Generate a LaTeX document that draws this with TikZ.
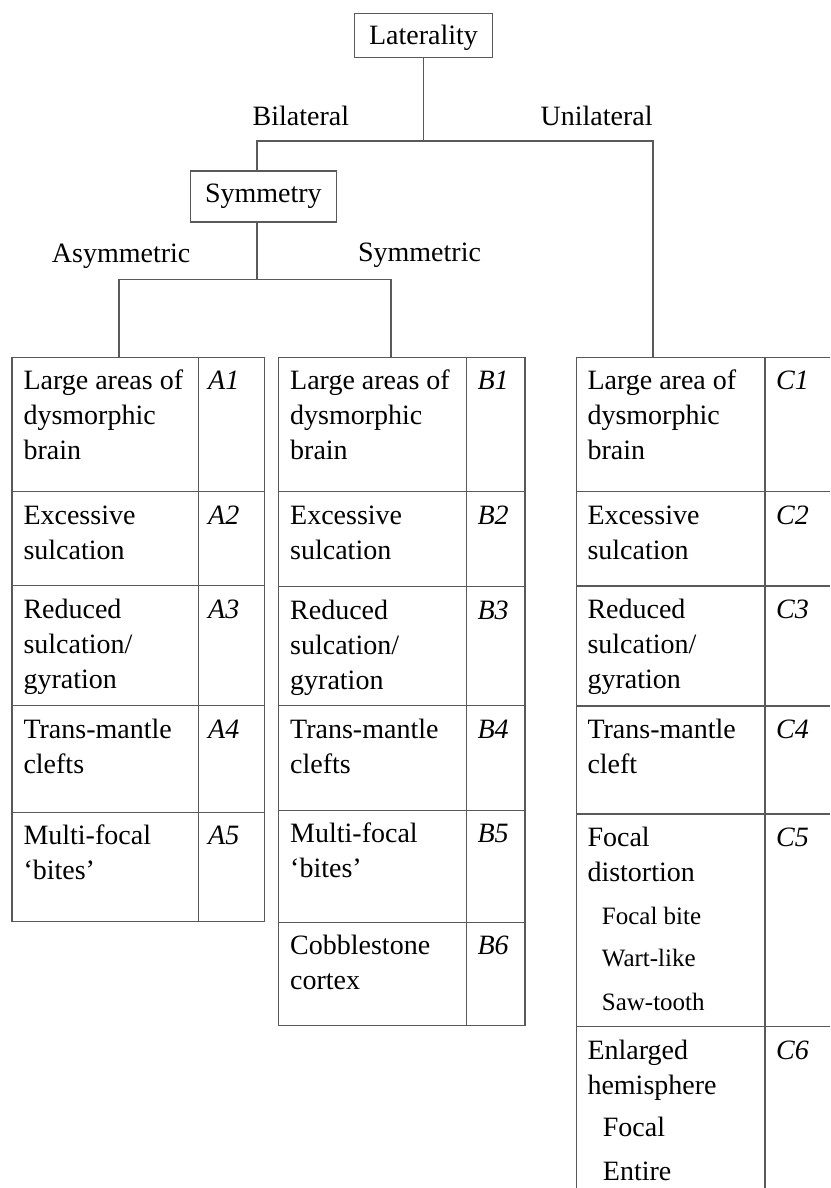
\documentclass[tikz,border=0pt]{standalone}
\usepackage{fontspec}
\setmainfont{Liberation Serif}
\usetikzlibrary{positioning}

\begin{document}
\begin{tikzpicture}[x=1pt, y=-1pt,
    line/.style={black!65, line width=1.3pt},
    box/.style={draw=black!65, line width=1.3pt, font=\fontsize{28}{35}\selectfont, inner sep=0pt},
    lbl/.style={font=\fontsize{28}{35}\selectfont, anchor=base west, inner sep=0pt},
    cell/.style={lbl, text width=172pt, align=flush left},
    tag/.style={lbl, font=\fontsize{28}{35}\selectfont\itshape},
    sub/.style={lbl, font=\fontsize{25}{30}\selectfont}]
        \useasboundingbox (0,0) rectangle (830,1188);
        % Tree head
        \node[box, minimum width=138pt, minimum height=44pt, text height=19pt, text depth=0pt] (lat) at (423.5,35.3) {Laterality};
        \node[box, minimum width=146pt, minimum height=51pt] (sym) at (263.4,196.5) {Symmetry};
        \node[lbl] (bilat) at (252.5,125) {Bilateral};
        \node[lbl] (unilat) at (540.4,125) {Unilateral};
        \node[lbl] (asym) at (51.7,262.3) {Asymmetric};
        \node[lbl] (symm) at (357.9,261.7) {Symmetric};
        \coordinate (bi) at (257,141);
        \coordinate (uni) at (653,141);
        \coordinate (ctop) at (653,357.3);
        \coordinate (asplit) at (257,279.3);
        \coordinate (atop) at (119,357.3);
        \coordinate (btop) at (391,357.3);
        \draw[line] (lat.south) -- (lat.south |- bi);
        \draw[line] (bi |- sym.north) -- (bi) -- (uni) -- (ctop);
        \draw[line] (asplit |- sym.south) -- (asplit);
        \draw[line] (atop) |- (asplit) -| (btop);
        % Table A (asymmetric)
        \draw[line] (12,357.3) rectangle (264.3,921.7);
        \draw[line] (198.3,357.3) -- (198.3,921.7);
        \foreach \y in {491.7,585.7,705.7,812.3}
            \draw[line] (12,\y) -- (264.3,\y);
        % Table B (symmetric)
        \draw[line] (278.3,357.3) rectangle (525,1025.7);
        \draw[line] (466.3,357.3) -- (466.3,1025.7);
        \foreach \y in {491.7,586.7,705.7,810.3,922.3}
            \draw[line] (278.3,\y) -- (525,\y);
        % Table C (unilateral), open to the right and below
        \draw[line] (576.7,357.3) -- (830,357.3);
        \draw[line] (576.7,357.3) -- (576.7,1188);
        \draw[line] (765,357.3) -- (765,1188);
        \foreach \y in {491.7,586,706,814,1026.7}
            \draw[line] (576.7,\y) -- (830,\y);
        % Cell texts
        \node[cell] (a1) at (23.3,389.8) {Large areas of\\dysmorphic\\brain};
        \node[cell] (a2) at (23.3,524.2) {Excessive\\sulcation};
        \node[cell] (a3) at (23.3,618.2) {Reduced\\sulcation/\\gyration};
        \node[cell] (a4) at (23.3,738.2) {Trans-mantle\\clefts};
        \node[cell] (a5) at (23.3,844.8) {Multi-focal\\‘bites’};
        \node[cell] (b1) at (290,389.8) {Large areas of\\dysmorphic\\brain};
        \node[cell] (b2) at (290,524.2) {Excessive\\sulcation};
        \node[cell] (b3) at (290,619.2) {Reduced\\sulcation/\\gyration};
        \node[cell] (b4) at (290,738.2) {Trans-mantle\\clefts};
        \node[cell] (b5) at (290,842.8) {Multi-focal\\‘bites’};
        \node[cell] (b6) at (290,954.8) {Cobblestone\\cortex};
        \node[cell] (c1) at (587.3,389.8) {Large area of\\dysmorphic\\brain};
        \node[cell] (c2) at (587.3,524.2) {Excessive\\sulcation};
        \node[cell] (c3) at (587.3,618.5) {Reduced\\sulcation/\\gyration};
        \node[cell] (c4) at (587.3,738.5) {Trans-mantle\\cleft};
        \node[cell] (c5) at (587.3,846.5) {Focal\\distortion};
        \node[sub] (c5bite) at (601.7,924) {Focal bite};
        \node[sub] (c5wart) at (601.7,966) {Wart-like};
        \node[sub] (c5saw) at (601.7,1010) {Saw-tooth};
        \node[cell] (c6) at (587.3,1059.2) {Enlarged\\hemisphere};
        \node[lbl] (c6focal) at (602.7,1136) {Focal};
        \node[lbl] (c6entire) at (602.7,1180) {Entire};
        % Row tags
        \foreach \n/\y in {1/389.8,2/524.2,3/618.2,4/738.2,5/844.8}
            \node[tag] (ta\n) at (208,\y) {A\n};
        \foreach \n/\y in {1/389.8,2/524.2,3/619.2,4/738.2,5/842.8,6/954.8}
            \node[tag] (tb\n) at (477.3,\y) {B\n};
        \foreach \n/\y in {1/389.8,2/524.2,3/618.5,4/738.5,5/846.5,6/1059.2}
            \node[tag] (tc\n) at (776,\y) {C\n};
\end{tikzpicture}
\end{document}
